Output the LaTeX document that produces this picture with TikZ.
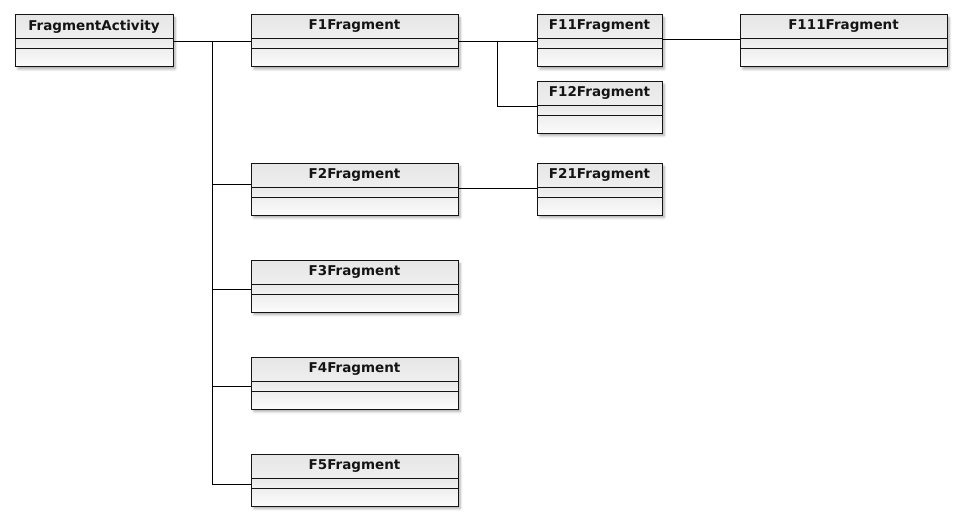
\documentclass[tikz,border=0pt]{standalone}
\usepackage{fontspec}
\setmainfont{DejaVu Sans}
\usetikzlibrary{shadows.blur}
\definecolor{bordc}{HTML}{141414}
\definecolor{hdtop}{HTML}{E6E6E6}
\definecolor{hdbot}{HTML}{EFEFEF}
\definecolor{mdtop}{HTML}{E9E9E9}
\definecolor{mdbot}{HTML}{F2F2F2}
\definecolor{bttop}{HTML}{EEEEEE}
\definecolor{btbot}{HTML}{FCFCFC}
\tikzset{
  clsbox/.style={draw=bordc, line width=1pt, fill=white, minimum height=51pt, inner sep=0pt, anchor=north west,
    blur shadow={shadow xshift=2.5pt, shadow yshift=-2.5pt, shadow blur radius=2.5pt, shadow opacity=35}},
  clstitle/.style={font=\fontsize{13.5}{15}\selectfont\bfseries, text=bordc, inner sep=0pt, anchor=center},
  conn/.style={draw=black, line width=1pt},
}
\newcommand\umlcls[5]{%
  \node[clsbox, minimum width=#4pt] (#1) at (#2,#3) {};
  \shade[top color=hdtop, bottom color=hdbot] (#1.north west) rectangle ([yshift=-24pt]#1.north east);
  \shade[top color=mdtop, bottom color=mdbot] ([yshift=-24pt]#1.north west) rectangle ([yshift=-34pt]#1.north east);
  \shade[top color=bttop, bottom color=btbot] ([yshift=-34pt]#1.north west) rectangle (#1.south east);
  \draw[draw=bordc, line width=1pt] ([yshift=-24pt]#1.north west) -- ([yshift=-24pt]#1.north east);
  \draw[draw=bordc, line width=1pt] ([yshift=-34pt]#1.north west) -- ([yshift=-34pt]#1.north east);
  \draw[draw=bordc, line width=1pt] (#1.north west) rectangle (#1.south east);
  \node[clstitle] (#1-t) at ([yshift=-11.5pt]#1.north) {#5};
}
\begin{document}
\begin{tikzpicture}[x=1pt, y=-1pt]
\useasboundingbox (0,0) rectangle (961,521);
\umlcls{fa}{15}{15}{157}{FragmentActivity}
\umlcls{f1}{251}{15}{206}{F1Fragment}
\umlcls{f11}{537}{15}{124}{F11Fragment}
\umlcls{f111}{740}{15}{206}{F111Fragment}
\umlcls{f12}{537}{81.5}{124}{F12Fragment}
\umlcls{f2}{251}{163.5}{206}{F2Fragment}
\umlcls{f21}{537}{163.5}{124}{F21Fragment}
\umlcls{f3}{251}{260.5}{206}{F3Fragment}
\umlcls{f4}{251}{357.5}{206}{F4Fragment}
\umlcls{f5}{251}{454.5}{206}{F5Fragment}
% attachment points
\coordinate (faR) at ([yshift=-27pt]fa.north east);
\coordinate (f1L) at ([yshift=-27pt]f1.north west);
\coordinate (f1R) at ([yshift=-27pt]f1.north east);
\coordinate (f11L) at ([yshift=-27pt]f11.north west);
\coordinate (f11R) at ([yshift=-25pt]f11.north east);
\coordinate (f111L) at ([yshift=-25pt]f111.north west);
\coordinate (f12L) at ([yshift=-25.2pt]f12.north west);
\coordinate (f2L) at ([yshift=-21.5pt]f2.north west);
\coordinate (f2R) at ([yshift=-25.5pt]f2.north east);
\coordinate (f21L) at ([yshift=-25.5pt]f21.north west);
\coordinate (f3L) at ([yshift=-29.2pt]f3.north west);
\coordinate (f4L) at ([yshift=-28.8pt]f4.north west);
\coordinate (f5L) at ([yshift=-29.8pt]f5.north west);
\coordinate (trunk) at (212,42);
\coordinate (b1) at (497,42);
\draw[conn] (faR) -- (f1L);
\draw[conn] (trunk) |- (f5L);
\draw[conn] (trunk |- f2L) -- (f2L);
\draw[conn] (trunk |- f3L) -- (f3L);
\draw[conn] (trunk |- f4L) -- (f4L);
\draw[conn] (f1R) -- (f11L);
\draw[conn] (b1) |- (f12L);
\draw[conn] (f2R) -- (f21L);
\draw[conn] (f11R) -- (f111L);
\end{tikzpicture}
\end{document}
